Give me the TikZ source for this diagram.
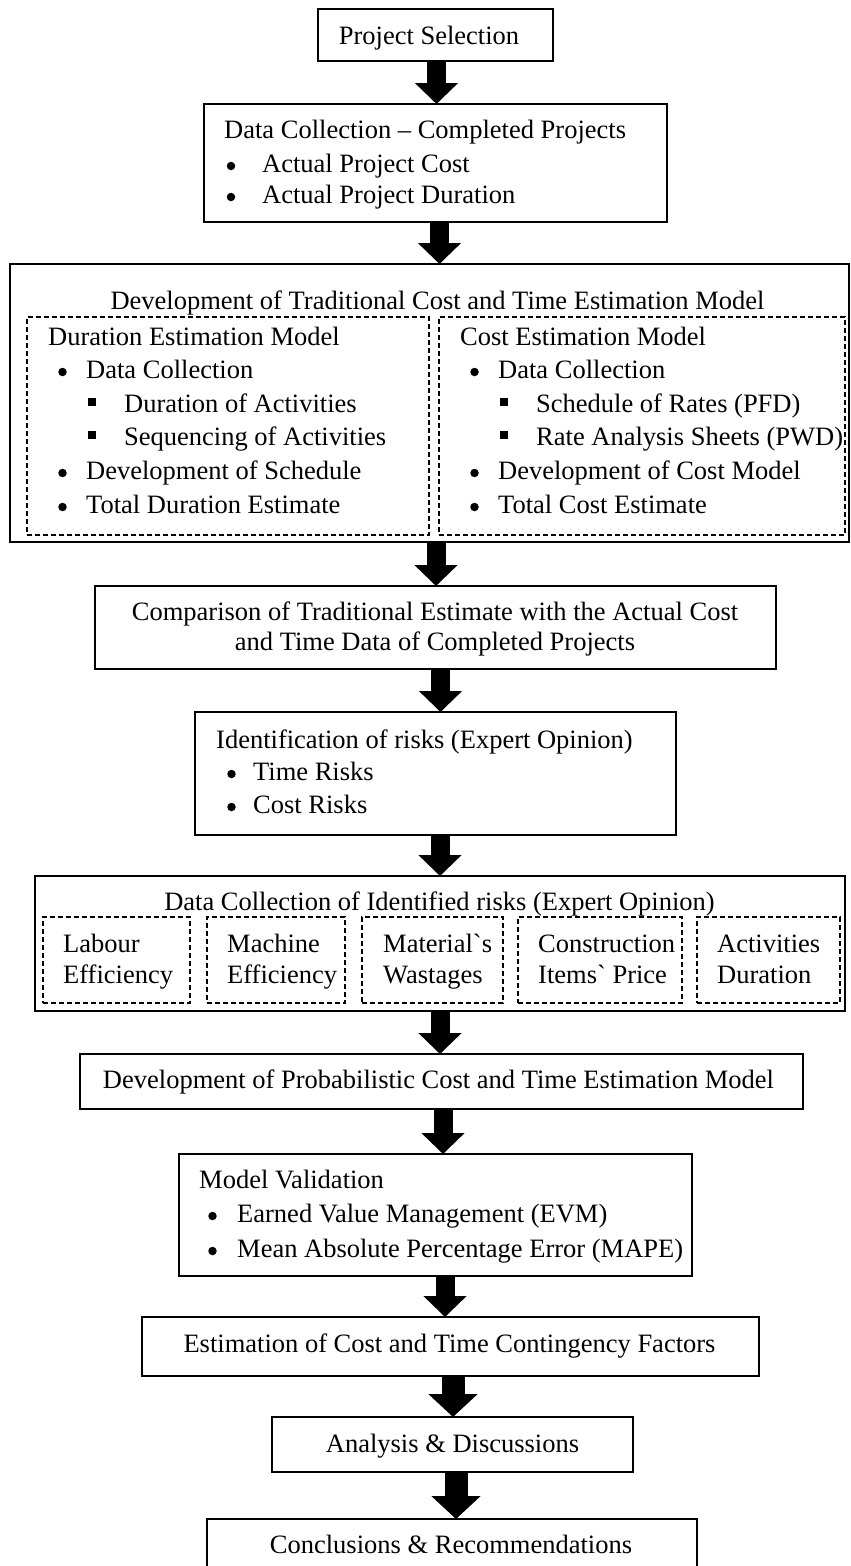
\documentclass[tikz,border=0pt]{standalone}
\usepackage{fontspec}
\newfontfamily\tnr{Liberation Serif}
\usetikzlibrary{arrows.meta}
\newcommand\figfont{\tnr\fontsize{26.5}{33}\selectfont}
\begin{document}
\begin{tikzpicture}[x=1pt,y=-1pt,
  box/.style={draw, line width=1.8pt, anchor=north west, inner sep=0pt, outer sep=0pt},
  dbox/.style={draw, line width=1.3pt, dash pattern=on 5.3pt off 2.7pt, anchor=north west, inner sep=0pt, outer sep=0pt},
  lbl/.style={inner sep=0pt, anchor=base west, font=\figfont},
  clbl/.style={inner sep=0pt, anchor=base, font=\figfont},
  bul/.style={circle, fill, inner sep=0pt, minimum size=8.5pt},
  sqb/.style={rectangle, fill, inner sep=0pt, minimum size=8pt},
  blk/.style={line width=19pt, -{Triangle[width=42pt,length=21pt]}},
  blkw/.style={line width=23pt, -{Triangle[width=48pt,length=23pt]}}]
\useasboundingbox (0,0) rectangle (851,1566);
\clip (0,0) rectangle (851,1566);

% ---------- boxes ----------
\node[box, minimum width=235pt, minimum height=52pt] (ps) at (318,9) {};
\node[box, minimum width=463pt, minimum height=118pt] (dc) at (204,104) {};
\node[box, minimum width=839pt, minimum height=278pt] (big) at (10,264) {};
\node[dbox, minimum width=402pt, minimum height=218pt] (dl) at (27,317) {};
\node[dbox, minimum width=406pt, minimum height=218pt] (dr) at (439,317) {};
\node[box, minimum width=681pt, minimum height=83pt] (comp) at (95,586) {};
\node[box, minimum width=481pt, minimum height=123pt] (ident) at (195,712) {};
\node[box, minimum width=810pt, minimum height=135pt] (risks) at (35,876) {};
\node[dbox, minimum width=147pt, minimum height=86pt] (b1) at (43,917) {};
\node[dbox, minimum width=138pt, minimum height=86pt] (b2) at (207,917) {};
\node[dbox, minimum width=141pt, minimum height=86pt] (b3) at (362,917) {};
\node[dbox, minimum width=164pt, minimum height=86pt] (b4) at (518,917) {};
\node[dbox, minimum width=143pt, minimum height=86pt] (b5) at (697,917) {};
\node[box, minimum width=723pt, minimum height=55pt] (prob) at (80,1054) {};
\node[box, minimum width=513pt, minimum height=122pt] (mv) at (179,1154) {};
\node[box, minimum width=617pt, minimum height=59pt] (est) at (142,1317) {};
\node[box, minimum width=361pt, minimum height=55pt] (ana) at (272,1417) {};
\node[box, minimum width=490pt, minimum height=100pt] (conc) at (207,1519) {};

% ---------- texts ----------
\node[clbl] (tps) at (429,44) {Project Selection};

\node[lbl] (tdc) at (224,138) {Data Collection – Completed Projects};
\node[bul] (bdc1) at (231,166) {};
\node[lbl] (tdc1) at (262,172) {Actual Project Cost};
\node[bul] (bdc2) at (231,197) {};
\node[lbl] (tdc2) at (262,203) {Actual Project Duration};

\node[clbl] (tbig) at (437.5,309) {Development of Traditional Cost and Time Estimation Model};
\node[lbl] (tdl) at (48,345) {Duration Estimation Model};
\node[bul] (bl1) at (62.5,372) {};
\node[lbl] (tl1) at (86,378) {Data Collection};
\node[sqb] (sl1) at (92,402) {};
\node[lbl] (tl2) at (124,412) {Duration of Activities};
\node[sqb] (sl2) at (92,435) {};
\node[lbl] (tl3) at (124,445) {Sequencing of Activities};
\node[bul] (bl2) at (62.5,473) {};
\node[lbl] (tl4) at (86,479) {Development of Schedule};
\node[bul] (bl3) at (62.5,507) {};
\node[lbl] (tl5) at (86,513) {Total Duration Estimate};

\node[lbl] (tdr) at (460,345) {Cost Estimation Model};
\node[bul] (br1) at (474.5,372) {};
\node[lbl] (tr1) at (498,378) {Data Collection};
\node[sqb] (sr1) at (504,402) {};
\node[lbl] (tr2) at (536,412) {Schedule of Rates (PFD)};
\node[sqb] (sr2) at (504,435) {};
\node[lbl] (tr3) at (536,445) {Rate Analysis Sheets (PWD)};
\node[bul] (br2) at (474.5,473) {};
\node[lbl] (tr4) at (498,479) {Development of Cost Model};
\node[bul] (br3) at (474.5,507) {};
\node[lbl] (tr5) at (498,513) {Total Cost Estimate};

\node[clbl] (tcomp1) at (435,620) {Comparison of Traditional Estimate with the Actual Cost};
\node[clbl] (tcomp2) at (435,650) {and Time Data of Completed Projects};

\node[lbl] (tid) at (216,748) {Identification of risks (Expert Opinion)};
\node[bul] (bid1) at (231.5,774) {};
\node[lbl] (tid1) at (253,780) {Time Risks};
\node[bul] (bid2) at (231.5,807) {};
\node[lbl] (tid2) at (253,813) {Cost Risks};

\node[clbl] (trisk) at (439.5,910) {Data Collection of Identified risks (Expert Opinion)};
\node[lbl] (tb1a) at (63,952) {Labour};
\node[lbl] (tb1b) at (63,983) {Efficiency};
\node[lbl] (tb2a) at (227,952) {Machine};
\node[lbl] (tb2b) at (227,983) {Efficiency};
\node[lbl] (tb3a) at (383,952) {Material\symbol{96}s};
\node[lbl] (tb3b) at (383,983) {Wastages};
\node[lbl] (tb4a) at (538,952) {Construction};
\node[lbl] (tb4b) at (538,983) {Items\symbol{96} Price};
\node[lbl] (tb5a) at (717,952) {Activities};
\node[lbl] (tb5b) at (717,983) {Duration};

\node[clbl] (tprob) at (438.5,1088) {Development of Probabilistic Cost and Time Estimation Model};

\node[lbl] (tmv) at (199,1188) {Model Validation};
\node[bul] (bmv1) at (212.5,1216) {};
\node[lbl] (tmv1) at (237,1222) {Earned Value Management (EVM)};
\node[bul] (bmv2) at (212.5,1251) {};
\node[lbl] (tmv2) at (237,1257) {Mean Absolute Percentage Error (MAPE)};

\node[clbl] (test) at (449.5,1352) {Estimation of Cost and Time Contingency Factors};
\node[clbl] (tana) at (452.5,1452) {Analysis \& Discussions};
\node[clbl] (tconc) at (451,1553) {Conclusions \& Recommendations};

% ---------- block arrows ----------
\path (ps.south) ++(1,0) coordinate (a1);
\draw[blk] (a1) -- (a1 |- dc.north);
\path (dc.south) ++(4,0) coordinate (a2);
\draw[blk] (a2) -- (a2 |- big.north);
\path (big.south) ++(6.5,0) coordinate (a3);
\draw[blk] (a3) -- (a3 |- comp.north);
\path (comp.south) ++(5,0) coordinate (a4);
\draw[blk] (a4) -- (a4 |- ident.north);
\path (ident.south) ++(4.5,0) coordinate (a5);
\draw[blk] (a5) -- (a5 |- risks.north);
\path (risks.south) ++(0,0) coordinate (a6);
\draw[blk] (a6) -- (a6 |- prob.north);
\path (prob.south) ++(1.5,0) coordinate (a7);
\draw[blk] (a7) -- (a7 |- mv.north);
\path (mv.south) ++(9.5,0) coordinate (a8);
\draw[blk] (a8) -- (a8 |- est.north);
\path (est.south) ++(2.5,0) coordinate (a9);
\draw[blkw] (a9) -- (a9 |- ana.north);
\path (ana.south) ++(3.5,0) coordinate (a10);
\draw[blkw] (a10) -- (a10 |- conc.north);
\end{tikzpicture}
\end{document}
